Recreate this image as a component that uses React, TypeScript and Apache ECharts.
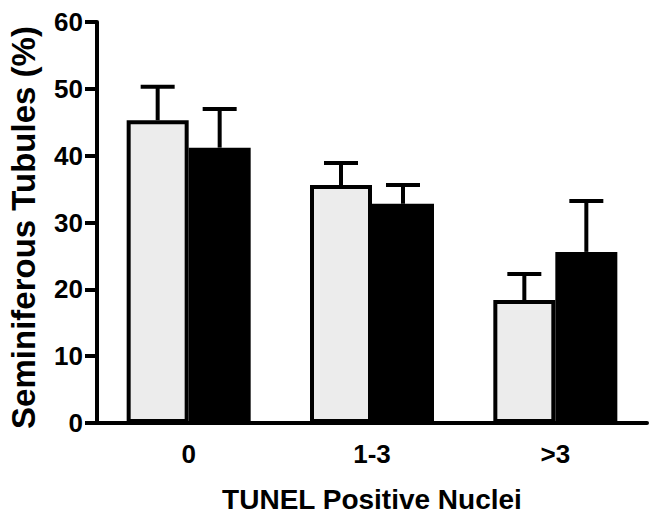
import React, { useEffect, useRef } from "react";
import * as echarts from "echarts";

const categories = ["0", "1-3", ">3"];
const lightValues = [45.3, 35.6, 18.4];
const lightErrors = [5.0, 3.3, 3.9];
const darkValues = [41.2, 32.8, 25.6];
const darkErrors = [5.8, 2.8, 7.6];
const yTicks = [0, 10, 20, 30, 40, 50, 60];

const FONT = "'Liberation Sans', Arial, sans-serif";

export default function App() {
  const ref = useRef<HTMLDivElement>(null);
  useEffect(() => {
    document.body.style.margin = "0";
    document.body.style.overflow = "hidden";
    if (!ref.current) return;
    const chart = echarts.init(ref.current, null, { renderer: "svg" });
    const barW = 62;
    const makeErr = (vals: number[], errs: number[], offset: number, name: string) => ({
      type: "custom",
      name,
      z: 1,
      data: vals.map((v, i) => [i, v, v + errs[i]]),
      renderItem: (params: any, api: any) => {
        const i = api.value(0);
        const lo = api.coord([i, api.value(1)]);
        const hi = api.coord([i, api.value(2)]);
        const x = lo[0] + offset;
        const style = { stroke: "#000", lineWidth: 4 };
        return {
          type: "group",
          children: [
            { type: "line", shape: { x1: x, y1: lo[1], x2: x, y2: hi[1] }, style },
            { type: "line", shape: { x1: x - 17, y1: hi[1], x2: x + 17, y2: hi[1] }, style },
          ],
        };
      },
    });
    chart.setOption({
      animation: false,
      grid: { left: 97, right: 2, top: 22, bottom: 90, containLabel: false, outerBoundsMode: "none" },
      xAxis: {
        type: "category",
        data: categories,
        name: "TUNEL Positive Nuclei",
        nameLocation: "middle",
        nameGap: 62,
        nameTextStyle: { fontFamily: FONT, fontWeight: "bold", fontSize: 28, color: "#000" },
        axisLine: { lineStyle: { color: "#000", width: 4 } },
        axisTick: { alignWithLabel: true, length: 11, lineStyle: { color: "#000", width: 4 } },
        axisLabel: { fontFamily: FONT, fontWeight: "bold", fontSize: 26, color: "#000", margin: 18 },
      },
      yAxis: {
        type: "value",
        min: 0,
        max: 60,
        interval: 10,
        name: "Seminiferous Tubules (%)",
        nameLocation: "middle",
        nameGap: 57,
        nameTextStyle: {
          fontFamily: FONT,
          fontWeight: "bold",
          fontSize: 33,
          color: "#000",
          padding: [0, 10, 0, 0],
        },
        axisLine: { show: true, lineStyle: { color: "#000", width: 4 } },
        axisTick: { show: true, length: 12, lineStyle: { color: "#000", width: 4 } },
        axisLabel: {
          fontFamily: FONT,
          fontWeight: "bold",
          fontSize: 26,
          color: "#000",
          margin: 14,
          formatter: (v: number) => (yTicks.includes(v) ? String(v) : ""),
        },
        splitLine: { show: false },
      },
      series: [
        makeErr(lightValues, lightErrors, -barW / 2, "lightErr"),
        makeErr(darkValues, darkErrors, barW / 2, "darkErr"),
        {
          type: "bar",
          name: "light",
          z: 2,
          data: lightValues,
          barWidth: barW,
          barGap: "0%",
          itemStyle: { color: "#ececec", borderColor: "#000", borderWidth: 4 },
        },
        {
          type: "bar",
          name: "dark",
          z: 2,
          data: darkValues,
          barWidth: barW,
          barGap: "0%",
          itemStyle: { color: "#000", borderColor: "#000", borderWidth: 4 },
        },
      ],
    });
    return () => chart.dispose();
  }, []);
  return <div ref={ref} style={{ width: 649, height: 513 }} />;
}
